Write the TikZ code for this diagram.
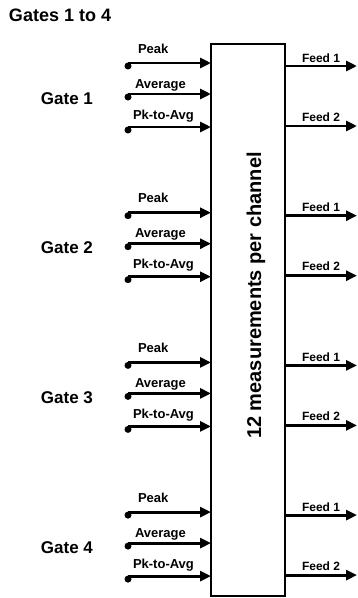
\documentclass[tikz,border=0pt]{standalone}
\usepackage{fontspec}
\setmainfont{Liberation Sans}
\usetikzlibrary{arrows.meta}
\begin{document}
\begin{tikzpicture}[x=1pt,y=-1pt,
  every node/.style={inner sep=0pt, outer sep=0pt},
  titlelbl/.style={anchor=base west, font=\bfseries\fontsize{18}{20}\selectfont},
  gatelbl/.style={anchor=base west, font=\bfseries\fontsize{17}{19}\selectfont},
  inlbl/.style={anchor=base west, font=\bfseries\fontsize{13}{15}\selectfont},
  feedlbl/.style={anchor=base west, font=\bfseries\fontsize{12}{14}\selectfont},
  vlbl/.style={rotate=90, font=\bfseries\fontsize{20}{22}\selectfont},
  dotn/.style={circle, fill=black, minimum size=7pt},
  mainbox/.style={draw, line width=2.2pt, minimum width=74pt, minimum height=552pt, anchor=north west},
  arr/.style={line width=2.8pt, -{Triangle[length=11pt,width=10pt]}}
]
\useasboundingbox (0,0) rectangle (357,598);
\node[titlelbl] (title) at (9,21) {Gates 1 to 4};
\node[mainbox] (box) at (211,44) {};
\node[vlbl] (vt) at (256,295.5) {12 measurements per channel};
\foreach \g in {1,...,4}{
  \pgfmathsetmacro{\yg}{63+149.7*(\g-1)}
  \node[gatelbl] (gate\g) at (41,\yg+41) {Gate \g};
  % inputs
  \node[inlbl] (lp\g) at (138,\yg-10) {Peak};
  \node[inlbl] (la\g) at (135,\yg+25) {Average};
  \node[inlbl] (lk\g) at (133,\yg+56) {Pk-to-Avg};
  \node[dotn] (dp\g) at (128,\yg+3) {};
  \node[dotn] (da\g) at (128,\yg+34) {};
  \node[dotn] (dk\g) at (128,\yg+67) {};
  \coordinate (sp\g) at (128,\yg);
  \coordinate (sa\g) at (128,\yg+31);
  \coordinate (sk\g) at (128,\yg+64);
  \draw[arr] (sp\g) -- (sp\g -| box.west);
  \draw[arr] (sa\g) -- (sa\g -| box.west);
  \draw[arr] (sk\g) -- (sk\g -| box.west);
  % outputs
  \coordinate (fa\g) at (357,\yg+3);
  \coordinate (fb\g) at (357,\yg+63);
  \draw[arr] (fa\g -| box.east) -- (fa\g);
  \draw[arr] (fb\g -| box.east) -- (fb\g);
  \node[feedlbl] (lfa\g) at (302,\yg-1) {Feed 1};
  \node[feedlbl] (lfb\g) at (302,\yg+58) {Feed 2};
}
\end{tikzpicture}
\end{document}
